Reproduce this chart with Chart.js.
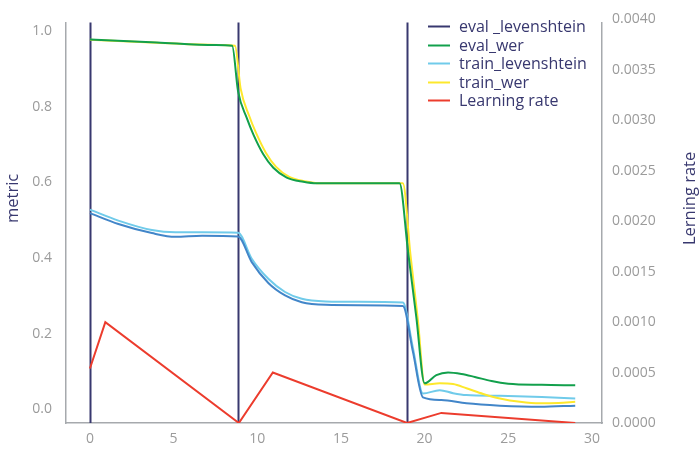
<!DOCTYPE html>
<html>
<head>
<meta charset="utf-8">
<script src="https://cdn.jsdelivr.net/npm/chart.js@4.4.1/dist/chart.umd.min.js"></script>
<style>
    html, body { margin: 0; padding: 0; background: #ffffff; }
    #wrap { width: 699px; height: 450px; }
</style>
</head>
<body>
<div id="wrap"><canvas id="metricsChart" width="699" height="450"></canvas></div>
<script>
// Values (epoch on x)
const epochMarks = [0, 8.85, 18.95];

const evalLevX = [0, 1.7, 3.7, 5.1, 6.7, 8.85, 9.67, 10.66, 11.66, 12.66, 14.1, 16, 18.7, 19.3, 19.9, 21, 22.5, 24.5, 26.9, 29];
const evalLevY = [0.519, 0.490, 0.466, 0.456, 0.459, 0.457, 0.389, 0.334, 0.301, 0.283, 0.276, 0.275, 0.273, 0.152, 0.031, 0.024, 0.015, 0.009, 0.006, 0.009];

const evalWerX = [0, 4, 7.5, 8.5, 8.85, 9.37, 9.77, 10.36, 10.96, 11.76, 12.75, 13.55, 16, 18.5, 19, 19.5, 20, 20.7, 21.4, 22.2, 23, 24, 25, 27, 29];
const evalWerY = [0.979, 0.971, 0.964, 0.962, 0.842, 0.771, 0.727, 0.675, 0.639, 0.613, 0.602, 0.598, 0.598, 0.598, 0.421, 0.245, 0.068, 0.090, 0.097, 0.093, 0.085, 0.074, 0.067, 0.064, 0.063];

const trainLevX = [0, 1.7, 3.7, 5.1, 6.7, 8.85, 9.67, 10.66, 11.66, 12.66, 14.1, 16, 18.7, 19.3, 19.9, 20.9, 21.7, 22.5, 24.5, 27, 29];
const trainLevY = [0.528, 0.499, 0.474, 0.468, 0.468, 0.467, 0.398, 0.345, 0.310, 0.292, 0.285, 0.284, 0.282, 0.162, 0.041, 0.050, 0.042, 0.037, 0.035, 0.032, 0.028];

const trainWerX = [0, 4, 7.7, 8.67, 9.0, 9.52, 9.92, 10.51, 11.11, 11.91, 12.9, 13.7, 16, 18.7, 19.15, 19.6, 20.0, 20.9, 21.7, 22.5, 23.5, 24.5, 25.7, 26.9, 28, 29];
const trainWerY = [0.978, 0.970, 0.964, 0.962, 0.850, 0.776, 0.732, 0.679, 0.642, 0.615, 0.603, 0.598, 0.598, 0.598, 0.410, 0.235, 0.065, 0.068, 0.066, 0.055, 0.040, 0.028, 0.019, 0.015, 0.016, 0.019];

const lrX = [0, 0.92, 8.9, 10.93, 18.95, 21, 29];
const lrY = [0.00054, 0.001, 0, 0.0005, 0, 0.0001, 0];

const xTicks = [0, 5, 10, 15, 20, 25, 30];
const metricTicks = [0, 0.2, 0.4, 0.6, 0.8, 1.0];
const lrTicks = [0, 0.0005, 0.001, 0.0015, 0.002, 0.0025, 0.003, 0.0035, 0.004];

const legendLabels = ['eval _levenshtein', 'eval_wer', 'train_levenshtein', 'train_wer', 'Learning rate'];

// Colours
const navy = '#38386f';
const axisGray = '#a6a9ad';
const tickGray = '#9b9b9b';
const legendColors = [navy, '#12a04c', '#70cbea', '#fde82c', '#ec3c2d'];
const FONT = '"Open Sans", "DejaVu Sans", sans-serif';

function toPoints(xs, ys) {
    return xs.map((x, i) => ({ x: x, y: ys[i] }));
}

// vertical epoch markers, drawn through the x scale
const markerPlugin = {
    id: 'epochMarkers',
    beforeDatasetsDraw(chart) {
        const ctx = chart.ctx;
        const area = chart.chartArea;
        const xs = chart.scales.x;
        ctx.save();
        ctx.strokeStyle = navy;
        ctx.lineWidth = 2;
        epochMarks.forEach(m => {
            const px = Math.round(xs.getPixelForValue(m)) + 0.5;
            ctx.beginPath();
            ctx.moveTo(px, area.top);
            ctx.lineTo(px, area.bottom);
            ctx.stroke();
        });
        ctx.restore();
    }
};

// axis titles and legend
const decorPlugin = {
    id: 'decor',
    afterDraw(chart) {
        const ctx = chart.ctx;
        const area = chart.chartArea;
        ctx.save();
        ctx.fillStyle = navy;
        ctx.font = '16.5px ' + FONT;
        ctx.textAlign = 'center';
        ctx.textBaseline = 'middle';

        ctx.save();
        ctx.translate(area.left - 53, area.top + 176);
        ctx.rotate(-Math.PI / 2);
        ctx.fillText('metric', 0, 0);
        ctx.restore();

        ctx.save();
        ctx.translate(area.right + 88, area.top + 176);
        ctx.rotate(-Math.PI / 2);
        ctx.fillText('Lerning rate', 0, 0);
        ctx.restore();

        // legend
        const lx = area.right - 174;
        const ly = area.top + 3.7;
        ctx.font = '16px ' + FONT;
        ctx.textAlign = 'left';
        ctx.lineWidth = 2;
        legendLabels.forEach((lab, i) => {
            const y = Math.round(ly + i * 18.5);
            ctx.strokeStyle = legendColors[i];
            ctx.beginPath();
            ctx.moveTo(lx, y + 0.5);
            ctx.lineTo(lx + 22, y + 0.5);
            ctx.stroke();
            ctx.fillStyle = navy;
            ctx.fillText(lab, lx + 31, y + 1);
        });
        ctx.restore();
    }
};

const curve = {
    borderWidth: 2,
    pointRadius: 0,
    fill: false,
    cubicInterpolationMode: 'monotone'
};

// first dataset is drawn on top
const ctx = document.getElementById('metricsChart').getContext('2d');
const metricsChart = new Chart(ctx, {
    type: 'line',
    data: {
        datasets: [
            {
                label: legendLabels[4],
                data: toPoints(lrX, lrY),
                borderColor: '#ec3c2d',
                borderWidth: 2,
                pointRadius: 0,
                tension: 0,
                fill: false,
                yAxisID: 'y1'
            },
            Object.assign({ label: legendLabels[1], data: toPoints(evalWerX, evalWerY), borderColor: '#12a04c', yAxisID: 'y' }, curve),
            Object.assign({ label: legendLabels[3], data: toPoints(trainWerX, trainWerY), borderColor: '#fde82c', yAxisID: 'y' }, curve),
            Object.assign({ label: legendLabels[0], data: toPoints(evalLevX, evalLevY), borderColor: '#4286c9', yAxisID: 'y' }, curve),
            Object.assign({ label: legendLabels[2], data: toPoints(trainLevX, trainLevY), borderColor: '#70cbea', yAxisID: 'y' }, curve)
        ]
    },
    options: {
        responsive: false,
        animation: false,
        devicePixelRatio: 1,
        layout: { padding: { top: 21, left: 0, right: 0, bottom: 0 } },
        plugins: {
            legend: { display: false },
            tooltip: { enabled: false }
        },
        scales: {
            x: {
                type: 'linear',
                min: -1.43,
                max: 30.6,
                grid: { display: false, drawTicks: false },
                border: { display: true, color: axisGray, width: 1.5 },
                ticks: {
                    color: tickGray,
                    font: { family: FONT, size: 14 },
                    padding: 8,
                    autoSkip: false,
                    maxRotation: 0,
                    callback: v => String(v)
                },
                afterBuildTicks: s => { s.ticks = xTicks.map(v => ({ value: v })); },
                afterFit: s => { s.height = 27; }
            },
            y: {
                position: 'left',
                min: -0.037,
                max: 1.024,
                grid: { display: false, drawTicks: false },
                border: { display: true, color: axisGray, width: 1.5 },
                ticks: {
                    color: tickGray,
                    font: { family: FONT, size: 14 },
                    padding: 14,
                    autoSkip: false,
                    callback: v => Number(v).toFixed(1)
                },
                afterBuildTicks: s => { s.ticks = metricTicks.map(v => ({ value: v })); },
                afterFit: s => { s.width = 66; }
            },
            y1: {
                position: 'right',
                min: 0,
                max: 0.00397,
                grid: { display: false, drawTicks: false },
                border: { display: true, color: axisGray, width: 1.5 },
                ticks: {
                    color: tickGray,
                    font: { family: FONT, size: 14 },
                    padding: 10,
                    autoSkip: false,
                    callback: v => Number(v).toFixed(4)
                },
                afterBuildTicks: s => { s.ticks = lrTicks.map(v => ({ value: v })); },
                afterFit: s => { s.width = 97; }
            }
        }
    },
    plugins: [markerPlugin, decorPlugin]
});
</script>
</body>
</html>
